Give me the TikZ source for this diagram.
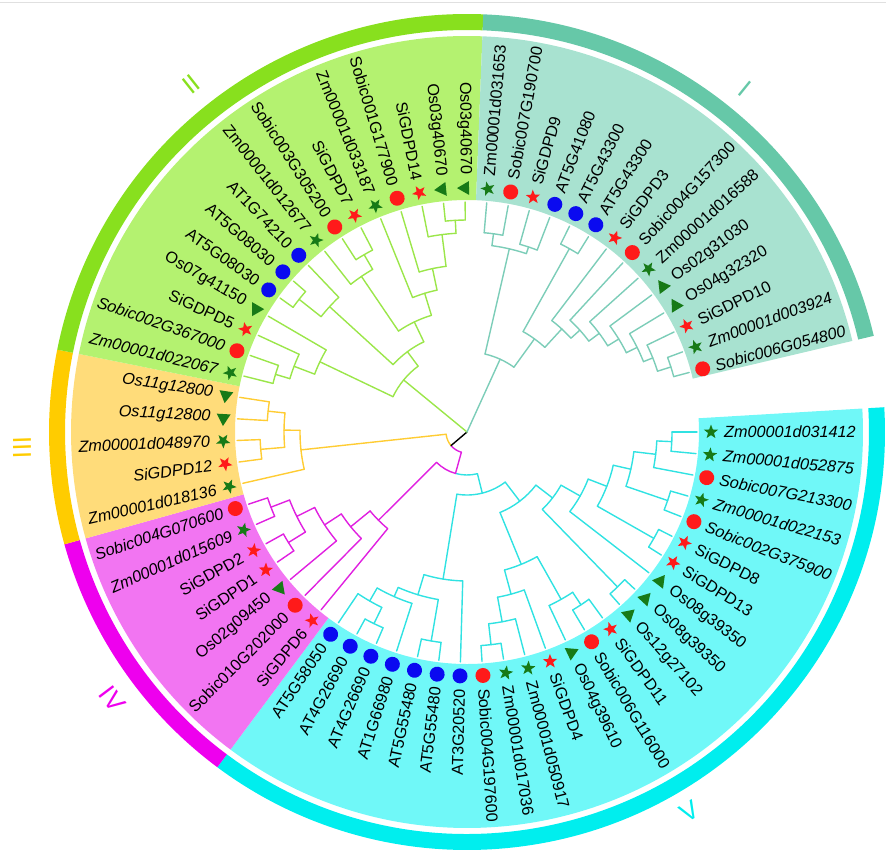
\documentclass[tikz,border=0pt]{standalone}
\usepackage{fontspec}
\setmainfont{Liberation Sans}
\usetikzlibrary{shapes.geometric}
\definecolor{ringI}{HTML}{66C8A8}
\definecolor{bgI}{HTML}{A8E2D0}
\definecolor{lnI}{HTML}{7CCDB8}
\definecolor{ringII}{HTML}{88E01E}
\definecolor{bgII}{HTML}{B4F270}
\definecolor{lnII}{HTML}{9BE64A}
\definecolor{ringIII}{HTML}{FFCC00}
\definecolor{bgIII}{HTML}{FFDC7A}
\definecolor{lnIII}{HTML}{FFCC33}
\definecolor{ringIV}{HTML}{EE00EE}
\definecolor{bgIV}{HTML}{F275F2}
\definecolor{lnIV}{HTML}{E020E0}
\definecolor{ringV}{HTML}{00EEEE}
\definecolor{bgV}{HTML}{70F8F8}
\definecolor{lnV}{HTML}{30E2E2}
\definecolor{mred}{HTML}{FF1A1A}
\definecolor{mgreen}{HTML}{177A17}
\definecolor{mblue}{HTML}{0A0AF0}
\newcommand\DD{5.390625}
\newcommand\Sector[4]{\fill[#3] ([shift={(T)}]#1:232) -- ([shift={(T)}]#1:396) arc[start angle=#1, end angle=#2, radius=396pt] -- ([shift={(T)}]#2:232) arc[start angle=#2, end angle=#1, radius=232pt] -- cycle;
 \fill[#4] ([shift={(T)}]#1:402) -- ([shift={(T)}]#1:418) arc[start angle=#1, end angle=#2, radius=418pt] -- ([shift={(T)}]#2:402) arc[start angle=#2, end angle=#1, radius=402pt] -- cycle;}
\newcommand\Rad[3]{\pgfmathsetmacro\myA{-(#1-1)*\DD}\draw ([shift={(T)}]\myA:#2) -- ([shift={(T)}]\myA:#3);}
\newcommand\Arc[3]{\pgfmathsetmacro\myA{-(#1-1)*\DD}\pgfmathsetmacro\myB{-(#2-1)*\DD}\draw ([shift={(T)}]\myA:#3) arc[start angle=\myA, end angle=\myB, radius=#3pt];}
\newcommand\J[5]{\Arc{#2}{#4}{#1}\Rad{#2}{#1}{#3}\Rad{#4}{#1}{#5}}
\begin{document}
\begin{tikzpicture}[x=1pt,y=1pt,
  lbl/.style={inner sep=0pt, font=\fontsize{16.2}{18}\selectfont},
  mkrc/.style={circle, fill=mred, inner sep=0pt, minimum size=15pt},
  mkbc/.style={circle, fill=mblue, inner sep=0pt, minimum size=15pt},
  mkrs/.style={star, star points=5, star point ratio=2.4, fill=mred, inner sep=0pt, minimum size=15pt},
  mkgs/.style={star, star points=5, star point ratio=2.4, fill=mgreen, inner sep=0pt, minimum size=15pt},
  mkgt/.style={regular polygon, regular polygon sides=3, fill=mgreen, inner sep=0pt, minimum size=16pt},
  clab/.style={inner sep=0pt, font=\fontsize{26}{28}\selectfont},
  tree/.style={line width=1.4pt, line cap=round, line join=round}]
\useasboundingbox (0,0) rectangle (886,-851);
\coordinate (T) at (467,-432);
\draw[black!12, line width=1pt] (0,-3) -- (886,-3);
% backgrounds and ring
\Sector{3.4}{-126.68}{bgV}{ringV}
\Sector{-126.68}{-164.41}{bgIV}{ringIV}
\Sector{-164.41}{-191.37}{bgIII}{ringIII}
\Sector{-191.37}{-272.23}{bgII}{ringII}
\Sector{-272.23}{-346.7}{bgI}{ringI}
% clade labels
\node[clab, text=ringI, rotate=-39] (cI) at ([shift={(T)}]51:442) {I};
\node[clab, text=ringII, rotate=38.4] (cII) at ([shift={(T)}]128.4:444) {II};
\node[clab, text=ringIII, rotate=92] (cIII) at ([shift={(T)}]182:445) {III};
\node[clab, text=ringIV, rotate=-53] (cIV) at ([shift={(T)}]217:444) {IV};
\node[clab, text=ringV, rotate=30.4] (cV) at ([shift={(T)}]-59.6:440) {V};
% tree
\begin{scope}[tree, lnV]
\J{205}{1}{230}{2}{230}
\J{190}{1.5}{205}{3}{230}
\J{212}{4}{230}{5}{230}
\J{168}{2.25}{190}{4.5}{212}
\J{215}{6}{230}{7}{230}
\J{150}{6.5}{215}{3.375}{168}
\J{130}{8}{230}{4.94}{150}
\J{216}{9}{230}{10}{230}
\J{108}{9.5}{216}{6.47}{130}
\J{214}{16}{230}{17}{230}
\J{193}{16.5}{214}{15}{230}
\J{168}{15.75}{193}{14}{230}
\J{207}{11}{230}{12}{230}
\J{192}{13}{230}{11.5}{207}
\J{143}{14.875}{168}{12.25}{192}
\J{87}{13.56}{143}{7.98}{108}
\J{212}{19}{230}{20}{230}
\J{213}{22}{230}{23}{230}
\J{195}{22.5}{213}{24}{230}
\J{180}{21}{230}{23.25}{195}
\J{170}{19.5}{212}{22.125}{180}
\J{149}{20.81}{170}{18}{230}
\J{63}{19.41}{149}{10.77}{87}
\Arc{20.58}{15.09}{43}\Rad{15.09}{43}{63}
\end{scope}
\begin{scope}[tree, lnIV]
\J{210}{28}{230}{29}{230}
\J{210}{30}{230}{31}{230}
\J{190}{28.5}{210}{30.5}{210}
\J{170}{27}{230}{29.5}{190}
\J{150}{26}{230}{28.25}{170}
\J{125}{25}{230}{27.125}{150}
\Arc{26.06}{20.58}{43}\Rad{26.06}{43}{125}
\Arc{26.9}{20.58}{21}\Rad{20.58}{21}{43}
\end{scope}
\begin{scope}[tree, lnIII]
\J{207}{33}{230}{34}{230}
\J{200}{35}{230}{36}{230}
\J{183}{33.5}{207}{35.5}{200}
\J{167}{32}{230}{34.5}{183}
\Arc{33.25}{26.9}{21}\Rad{33.25}{21}{167}
\end{scope}
\begin{scope}[tree, black]
\Rad{26.9}{0}{21}
\end{scope}
\begin{scope}[tree, lnII]
\J{214}{41}{230}{42}{230}
\J{186}{41.5}{214}{43}{230}
\J{205}{45}{230}{46}{230}
\J{188}{44}{230}{45.5}{205}
\J{212}{50}{230}{51}{230}
\J{199}{49}{230}{50.5}{212}
\J{167}{48}{230}{49.75}{199}
\J{145}{47}{230}{48.875}{167}
\J{122}{44.75}{188}{47.94}{145}
\J{100}{42.25}{186}{46.34}{122}
\J{200}{37}{230}{38}{230}
\J{185}{37.5}{200}{39}{230}
\J{163}{38.25}{185}{40}{230}
\J{82}{39.125}{163}{44.3}{100}
\Rad{41.7}{0}{82}
\end{scope}
\begin{scope}[tree, lnI]
\J{200}{52}{230}{53}{230}
\J{195}{54}{230}{55}{230}
\J{188}{52.5}{200}{54.5}{195}
\J{210}{56}{230}{57}{230}
\J{214}{64}{230}{65}{230}
\J{200}{63}{230}{64.5}{214}
\J{190}{62}{230}{63.75}{200}
\J{178}{61}{230}{62.875}{190}
\J{165}{60}{230}{61.94}{178}
\J{152}{59}{230}{60.97}{165}
\J{140}{58}{230}{59.98}{152}
\J{115}{56.5}{210}{58.99}{140}
\J{80}{53.5}{188}{57.75}{115}
\Rad{55.625}{0}{80}
\end{scope}
% leaves
\foreach \i/\nm/\mk in {1/Zm00001d031412/gs,2/Zm00001d052875/gs,3/Sobic007G213300/rc,4/Zm00001d022153/gs,5/Sobic002G375900/rc,6/SiGDPD8/rs,7/SiGDPD13/rs,8/Os08g39350/gt,9/Os08g39350/gt,10/Os12g27102/gt,11/SiGDPD11/rs,12/Sobic006G116000/rc,13/Os04g39610/gt,14/SiGDPD4/rs,15/Zm00001d050917/gs,16/Zm00001d017036/gs,17/Sobic004G197600/rc,18/AT3G20520/bc,19/AT5G55480/bc,20/AT5G55480/bc,21/AT1G66980/bc,22/AT4G26690/bc,23/AT4G26690/bc,24/AT5G58050/bc,25/SiGDPD6/rs,26/Sobic010G202000/rc,27/Os02g09450/gt,28/SiGDPD1/rs,29/SiGDPD2/rs,30/Zm00001d015609/gs,31/Sobic004G070600/rc,32/Zm00001d018136/gs,33/SiGDPD12/rs,34/Zm00001d048970/gs,35/Os11g12800/gt,36/Os11g12800/gt,37/Zm00001d022067/gs,38/Sobic002G367000/rc,39/SiGDPD5/rs,40/Os07g41150/gt,41/AT5G08030/bc,42/AT5G08030/bc,43/AT1G74210/bc,44/Zm00001d012677/gs,45/Sobic003G305200/rc,46/SiGDPD7/rs,47/Zm00001d033187/gs,48/Sobic001G177900/rc,49/SiGDPD14/rs,50/Os03g40670/gt,51/Os03g40670/gt,52/Zm00001d031653/gs,53/Sobic007G190700/rc,54/SiGDPD9/rs,55/AT5G41080/bc,56/AT5G43300/bc,57/AT5G43300/bc,58/SiGDPD3/rs,59/Sobic004G157300/rc,60/Zm00001d016588/gs,61/Os02g31030/gt,62/Os04g32320/gt,63/SiGDPD10/rs,64/Zm00001d003924/gs,65/Sobic006G054800/rc}{
  \pgfmathsetmacro\ang{-(\i-1)*\DD}
  \pgfmathsetmacro\cs{cos(\ang)}
  \pgfmathsetmacro\sn{abs(sin(\ang))}
  \ifdim\sn pt<0.42pt \def\sh{\itshape}\else\def\sh{}\fi
  \node[mk\mk, rotate=\ang] (M\i) at ([shift={(T)}]\ang:244) {};
  \ifdim\cs pt>0pt
    \node[lbl, rotate=\ang, anchor=west] (L\i) at ([shift={(T)}]\ang:257) {\sh\nm};
  \else
    \pgfmathsetmacro\angb{\ang+180}
    \node[lbl, rotate=\angb, anchor=east] (L\i) at ([shift={(T)}]\ang:257) {\sh\nm};
  \fi
}
\end{tikzpicture}
\end{document}
